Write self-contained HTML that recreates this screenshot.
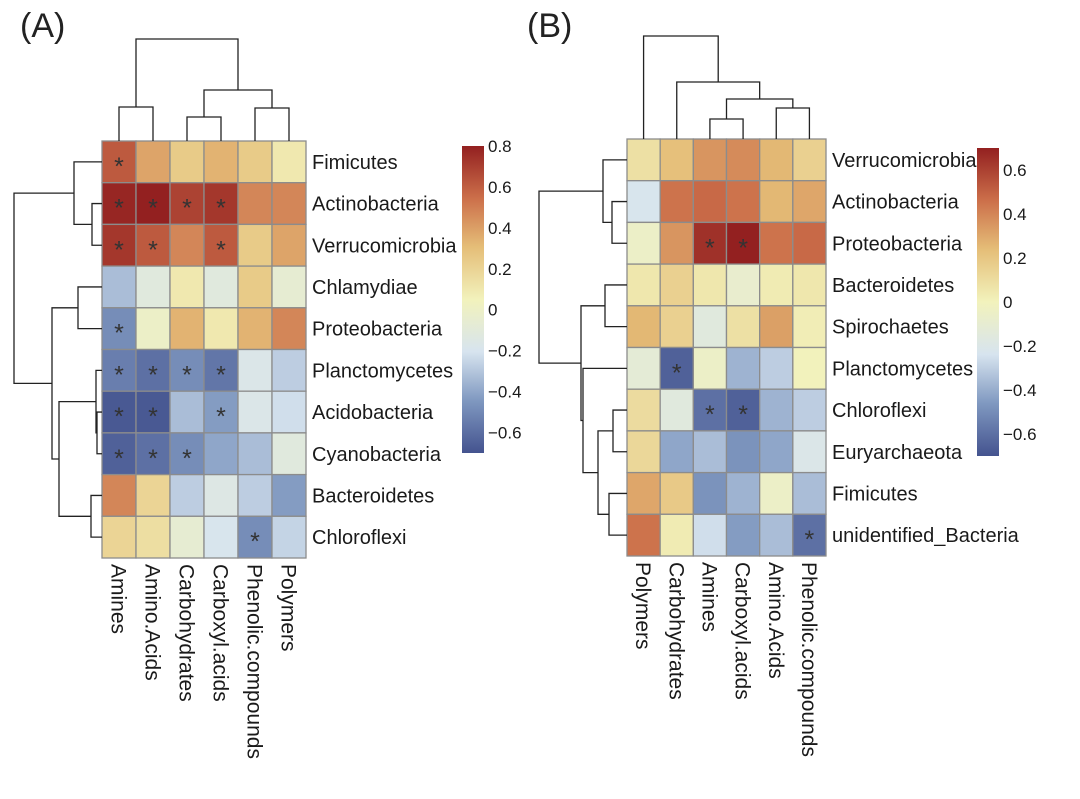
<!DOCTYPE html>
<html><head><meta charset="utf-8"><style>
body{margin:0;background:#fff;}
svg{display:block;font-family:"Liberation Sans",Arial,sans-serif;}
</style></head><body>
<svg id="s" width="1080" height="799" viewBox="0 0 1080 799" xmlns="http://www.w3.org/2000/svg">
<defs>
<linearGradient id="cbar" x1="0" y1="1" x2="0" y2="0">
<stop offset="0" stop-color="#44538f"/><stop offset="0.17" stop-color="#7f98c0"/><stop offset="0.33" stop-color="#d7e4ef"/><stop offset="0.5" stop-color="#f2f2bc"/><stop offset="0.67" stop-color="#e5be78"/><stop offset="0.83" stop-color="#cc6f4a"/><stop offset="1" stop-color="#932020"/>
</linearGradient>
</defs>
<text x="20" y="37" font-size="34" fill="#222">(A)</text>
<text x="527" y="37" font-size="34" fill="#222">(B)</text>
</svg>
<script>
const rowsA=["Fimicutes","Actinobacteria","Verrucomicrobia","Chlamydiae","Proteobacteria","Planctomycetes","Acidobacteria","Cyanobacteria","Bacteroidetes","Chloroflexi"];
const colsA=["Amines","Amino.Acids","Carbohydrates","Carboxyl.acids","Phenolic.compounds","Polymers"];
const valsA=[[0.6,0.35,0.2,0.3,0.2,0.05],[0.78,0.8,0.68,0.72,0.45,0.45],[0.72,0.6,0.45,0.6,0.2,0.35],[-0.35,-0.15,0.05,-0.15,0.2,-0.1],[-0.5,-0.05,0.3,0.05,0.3,0.45],[-0.55,-0.6,-0.5,-0.58,-0.2,-0.3],[-0.68,-0.68,-0.35,-0.45,-0.2,-0.25],[-0.65,-0.6,-0.5,-0.42,-0.35,-0.15],[0.45,0.15,-0.3,-0.18,-0.3,-0.45],[0.15,0.1,-0.1,-0.22,-0.5,-0.28]];
const starsA=[[0],[0,1,2,3],[0,1,3],[],[0],[0,1,2,3],[0,1,3],[0,1,2],[],[4]];
const ticksA=[0.8,0.6,0.4,0.2,0,-0.2,-0.4,-0.6];
const rowsB=["Verrucomicrobia","Actinobacteria","Proteobacteria","Bacteroidetes","Spirochaetes","Planctomycetes","Chloroflexi","Euryarchaeota","Fimicutes","unidentified_Bacteria"];
const colsB=["Polymers","Carbohydrates","Amines","Carboxyl.acids","Amino.Acids","Phenolic.compounds"];
const valsB=[[0.08,0.22,0.35,0.38,0.25,0.15],[-0.22,0.45,0.48,0.45,0.25,0.3],[-0.05,0.35,0.65,0.7,0.45,0.48],[0.05,0.15,0.05,-0.08,0.03,0.05],[0.25,0.15,-0.15,0.08,0.32,0.02],[-0.12,-0.65,-0.05,-0.38,-0.3,0.0],[0.1,-0.15,-0.6,-0.65,-0.38,-0.3],[0.12,-0.42,-0.35,-0.48,-0.42,-0.2],[0.3,0.18,-0.48,-0.38,-0.05,-0.35],[0.45,0.03,-0.25,-0.45,-0.35,-0.6]];
const starsB=[[],[],[2,3],[],[],[1],[2,3],[],[],[5]];
const ticksB=[0.6,0.4,0.2,0,-0.2,-0.4,-0.6];
const colTreeA=[[-1,-2,107],[-3,-4,117],[-5,-6,108],[2,3,90],[1,4,39]];
const rowTreeA=[[-2,-3,92],[-1,1,74],[-4,-5,78],[-7,-8,97],[-6,4,96],[-9,-10,91],[5,6,59],[3,7,52],[2,8,14]];
const colTreeB=[[-3,-4,119],[-5,-6,108],[1,2,99],[-2,3,82],[-1,4,36]];
const rowTreeB=[[-2,-3,612],[-1,1,603],[-4,-5,605],[-7,-8,613],[-9,-10,609],[4,5,598],[-6,6,583],[3,7,581],[2,8,539]];

const S=document.getElementById('s');const NS="http://www.w3.org/2000/svg";
function mk(t,a){const e=document.createElementNS(NS,t);for(const k in a)e.setAttribute(k,a[k]);S.appendChild(e);return e;}
const stops=[[-1,[68,83,143]],[-0.66,[127,152,192]],[-0.33,[215,228,239]],[0,[242,242,188]],[0.33,[229,190,120]],[0.66,[204,111,74]],[1,[147,32,32]]];
function color(v,vmin,vmax){let t=v<0?-v/vmin:v/vmax;t=Math.max(-1,Math.min(1,t));for(let i=0;i<stops.length-1;i++){const a=stops[i],b=stops[i+1];if(t<=b[0]){const f=(t-a[0])/(b[0]-a[0]);const c=a[1].map((x,j)=>Math.round(x+(b[1][j]-x)*f));return `rgb(${c})`;}}return 'rgb(147,32,32)';}

function panel(p,rows,cols,vals,stars,ticks,colTree,rowTree,vmin,vmax){
 const cw=(p.x1-p.x0)/cols.length, rh=(p.y1-p.y0)/rows.length;
 const xs=i=>p.x0+cw*(i+0.5), ys=i=>p.y0+rh*(i+0.5);
 vals.forEach((r,i)=>r.forEach((v,j)=>{
  const c=mk('rect',{x:p.x0+cw*j,y:p.y0+rh*i,width:cw,height:rh,fill:color(v,vmin,vmax),stroke:'#8c8c8c','stroke-width':1.3});
  
  
 }));
 stars.forEach((r,i)=>r.forEach(j=>{const t=mk('text',{x:xs(j),y:ys(i)+13,'font-size':25,'text-anchor':'middle',fill:'#333'});t.textContent='*';
  
  }));
 rows.forEach((r,i)=>{const t=mk('text',{x:p.x1+6,y:ys(i)+7,'font-size':20,fill:'#1a1a1a'});t.textContent=r;
  
  });
 cols.forEach((c,j)=>{const x=xs(j)-7.5,y=p.y1+6;const t=mk('text',{x:x,y:y,'font-size':21,fill:'#1a1a1a',transform:`rotate(90 ${x} ${y})`});t.textContent=c;
  
  });
 function dendro(tree,leafPos,base,horiz,name){
  const pos=[],lev=[];
  tree.forEach((m,k)=>{const g=i=>i<0?[leafPos(-i-1),base]:[pos[i-1],lev[i-1]];
   const a=g(m[0]),b=g(m[1]),L=m[2];
   let d=horiz?`M${a[1]},${a[0]}H${L}V${b[0]}H${b[1]}`:`M${a[0]},${a[1]}V${L}H${b[0]}V${b[1]}`;
   const e=mk('path',{d:d,fill:'none',stroke:'#222','stroke-width':1.3});
   
   
   pos.push((a[0]+b[0])/2);lev.push(L);});
 }
 dendro(colTree,xs,p.y0,false,'column-dendrogram-branch');
 dendro(rowTree,ys,p.x0,true,'row-dendrogram-branch');
 const by=v=>p.cb0-(v-vmax)*(p.cb1-p.cb0)/(vmax-vmin);
 const r=mk('rect',{x:p.cbx,y:by(vmax),width:22,height:by(vmin)-by(vmax),fill:'url(#cbar)'});
 
 
 ticks.forEach(v=>{const t=mk('text',{x:p.cbx+26,y:by(v)+6,'font-size':17,fill:'#1a1a1a'});t.textContent=v===0?'0':(v<0?'\u2212':'')+Math.abs(v).toFixed(1);
  
  });
}
panel({x0:102,x1:306,y0:141,y1:558,cbx:462,cb0:146,cb1:453},rowsA,colsA,valsA,starsA,ticksA,colTreeA,rowTreeA,-0.7,0.8);
panel({x0:627,x1:826,y0:139,y1:556,cbx:977,cb0:148,cb1:456},rowsB,colsB,valsB,starsB,ticksB,colTreeB,rowTreeB,-0.7,0.7);
</script>
</body></html>
